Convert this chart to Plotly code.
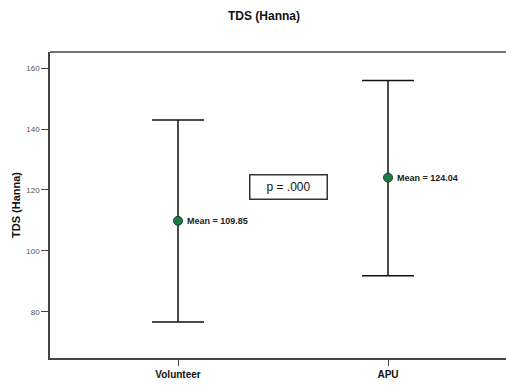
import plotly.graph_objects as go

groups = ["Volunteer", "APU"]
means = [109.85, 124.04]
upper = [143.0, 155.9]
lower = [76.6, 91.8]
mean_labels = ["Mean = 109.85", "Mean = 124.04"]
y_ticks = [80, 100, 120, 140, 160]
p_text = "p = .000"

xpos = list(range(len(groups)))
err_plus = [u - m for u, m in zip(upper, means)]
err_minus = [m - l for m, l in zip(means, lower)]

FONT = "Liberation Sans, Arial, sans-serif"
R_MARGIN = 0

fig = go.Figure()
fig.add_trace(go.Scatter(
    x=xpos, y=means, mode="markers",
    marker=dict(size=9, color="#1e7d46", line=dict(color="#123d22", width=1)),
    error_y=dict(type="data", symmetric=False, array=err_plus, arrayminus=err_minus,
                 color="#111111", thickness=1.5, width=26),
    showlegend=False, hoverinfo="skip",
))

for x, m, t in zip(xpos, means, mean_labels):
    fig.add_annotation(x=x, y=m, text="<b>" + t + "</b>", showarrow=False,
                       xanchor="left", yanchor="middle", xshift=7,
                       font=dict(family=FONT, size=9, color="#222222"))

fig.add_annotation(xref="paper", yref="paper", x=(288 - 50) / (456 - R_MARGIN), y=0.559,
                   text=p_text, showarrow=False, xanchor="center", yanchor="middle",
                   font=dict(family=FONT, size=12, color="#111111"),
                   bordercolor="#333333", borderwidth=1.5, borderpad=2,
                   width=72, height=19, bgcolor="white")

# top frame line of the plot area
fig.add_shape(type="line", xref="paper", yref="paper", x0=0, x1=1, y0=1, y1=1,
              line=dict(color="#444444", width=1.5))
# keep the right side of the frame open, as in the reference
fig.add_shape(type="line", xref="paper", yref="paper", x0=1, x1=1, y0=0.005, y1=0.995,
              line=dict(color="white", width=4), layer="above")

fig.update_layout(
    width=506, height=385,
    margin=dict(l=50, r=R_MARGIN, t=52, b=27),
    paper_bgcolor="white", plot_bgcolor="white",
    title=dict(text="<b>TDS (Hanna)</b>", x=264/506, xanchor="center",
               y=1 - 16/385, yanchor="middle",
               font=dict(family=FONT, size=12, color="#111111")),
    xaxis=dict(range=[-0.6095, 1.5619 - R_MARGIN/210], tickmode="array", tickvals=xpos,
               ticktext=["<b>" + g + "</b>" for g in groups], automargin=False,
               showgrid=False, zeroline=False, showline=True, mirror=False,
               linecolor="#444444", linewidth=1.5, ticks="outside", ticklen=6,
               tickcolor="#444444", tickwidth=1,
               tickfont=dict(family=FONT, size=10, color="#111111")),
    yaxis=dict(range=[64.8, 165.3], tickmode="array", tickvals=y_ticks, automargin=False,
               showgrid=False, zeroline=False, showline=True, mirror=False,
               linecolor="#444444", linewidth=1.5, ticks="outside", ticklen=7,
               tickcolor="#444444", tickwidth=1,
               tickfont=dict(family=FONT, size=8, color="#555555"),
               title=dict(text="<b>TDS (Hanna)</b>", standoff=3,
                          font=dict(family=FONT, size=11, color="#111111"))),
)

fig.write_html("out.html", config={"displayModeBar": False},
               post_script="document.body.style.margin='0';document.body.style.overflow='hidden';")
